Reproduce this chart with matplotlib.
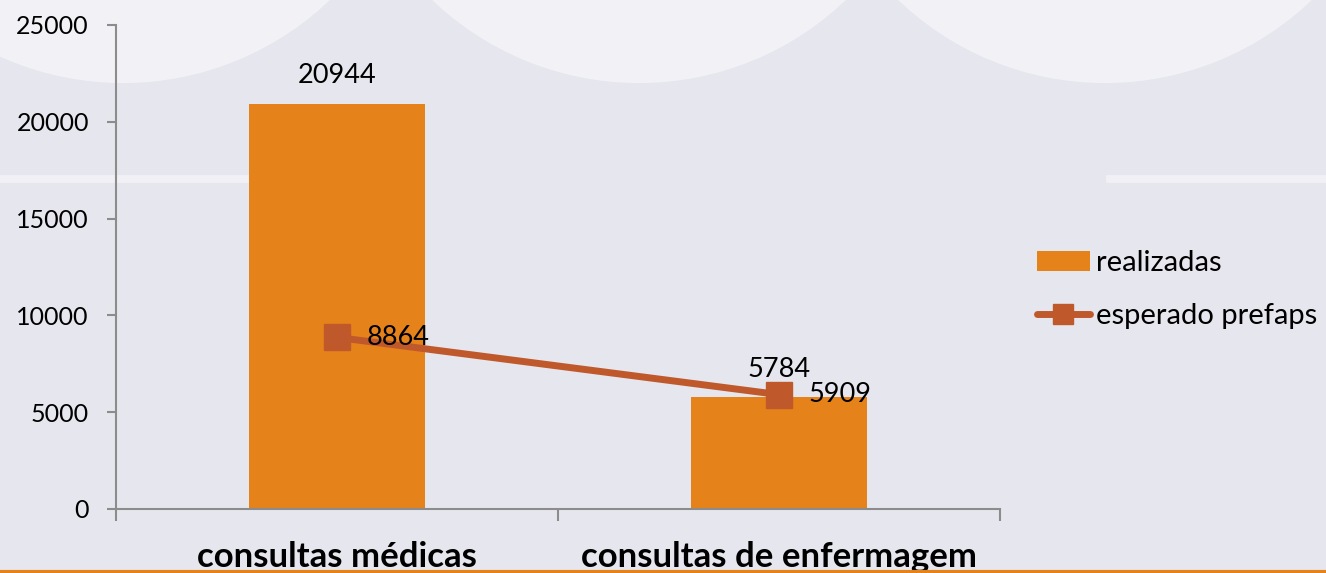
import matplotlib.pyplot as plt
from matplotlib.patches import Ellipse

# dados do gráfico
categorias = ["consultas médicas", "consultas de enfermagem"]
realizadas = [20944, 5784]
esperado_prefaps = [8864, 5909]
yticks = [0, 5000, 10000, 15000, 20000, 25000]

cor_barra = "#E6821A"
cor_linha = "#BF592C"
cor_fundo = "#E6E6EE"
cor_eixo = "#8C8C8C"

plt.rcParams['font.family'] = ['Lato', 'DejaVu Sans']

fig = plt.figure(figsize=(13.26, 5.73), dpi=100)
fig.patch.set_facecolor(cor_fundo)
W, H = 1326, 573

# fundo: círculos claros no topo e faixa branca (imagem de fundo original)
for cx in [123, 639, 1105]:
    fig.add_artist(Ellipse((cx / W, 1 + 216 / H), 598 / W, 598 / H, transform=fig.transFigure,
                           facecolor="white", alpha=0.5, edgecolor="none", zorder=-5))
for x0, x1 in [(0, 420), (1110, W)]:
    fig.add_artist(plt.Line2D([x0 / W, x1 / W], [1 - 179 / H] * 2, color="white", lw=5.5,
                              alpha=0.45, transform=fig.transFigure, zorder=-5))

ax = fig.add_axes([116 / W, 1 - 509 / H, (1000 - 116) / W, (509 - 25) / H])
ax.set_facecolor("none")

x = list(range(len(categorias)))
barras = ax.bar(x, realizadas, width=0.40, color=cor_barra, label="realizadas", zorder=2)
linha, = ax.plot(x, esperado_prefaps, color=cor_linha, lw=5, marker="s", markersize=18.5,
                 solid_capstyle="round", label="esperado prefaps", zorder=3)

# rótulos dos valores
for xi, v in zip(x, realizadas):
    ax.annotate(str(v), (xi, v), xytext=(0, 11), textcoords="offset points",
                ha="center", va="bottom", fontsize=19.5, zorder=4)
for xi, v in zip(x, esperado_prefaps):
    ax.annotate(str(v), (xi, v), xytext=(21, 0), textcoords="offset points",
                ha="left", va="center", fontsize=19.5, zorder=4)

ax.set_xlim(-0.5, 1.5)
ax.set_ylim(0, 25000)
ax.set_yticks(yticks)
ax.set_yticklabels([str(t) for t in yticks], fontsize=18)
ax.set_xticks(x)
ax.set_xticklabels(categorias, fontsize=25, fontweight="bold")
ax.tick_params(axis="x", length=0, pad=42)
ax.set_xticks([-0.5, 0.5, 1.5], minor=True)
ax.tick_params(axis="x", which="minor", length=8.5, width=1.5, color=cor_eixo)
ax.tick_params(axis="y", length=6.5, width=1.5, color=cor_eixo, pad=13)
for rot in ax.get_xticklabels():
    rot.set_va("baseline")

for lado in ["top", "right"]:
    ax.spines[lado].set_visible(False)
for lado in ["left", "bottom"]:
    ax.spines[lado].set_color(cor_eixo)
    ax.spines[lado].set_linewidth(1.5)

fig.legend([barras, linha], ["realizadas", "esperado prefaps"], loc="upper left",
           bbox_to_anchor=(1037 / W, 1 - 250 / H), frameon=False, fontsize=21,
           handlelength=1.8, handletextpad=0.24, labelspacing=0.93, borderpad=0,
           borderaxespad=0, markerscale=0.8)

# faixa laranja no rodapé
fig.add_artist(plt.Line2D([0, 1], [1.5 / H] * 2, color=cor_barra, lw=3,
                          transform=fig.transFigure))

fig.savefig("out.png", dpi=100, facecolor=fig.get_facecolor())
